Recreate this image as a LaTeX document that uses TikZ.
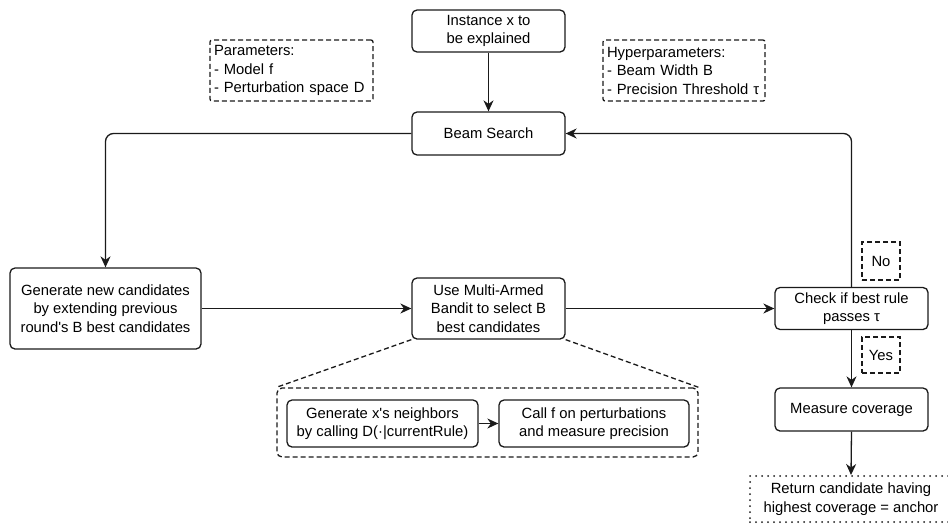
\documentclass[tikz,border=0pt]{standalone}
\usepackage{fontspec}
\setmainfont{Liberation Sans}[Ligatures=TeXOff]
\usetikzlibrary{arrows.meta}
\definecolor{ln}{HTML}{1a1a1a}
\tikzset{
  box/.style={draw=ln, line width=1.3pt, rounded corners=5pt, align=center, inner sep=0pt, font=\fontsize{14.8}{18.5}\selectfont},
  dbox/.style={draw=ln, line width=1.3pt, dash pattern=on 5pt off 3pt, rounded corners=2pt, inner sep=0pt, font=\fontsize{14.8}{18.5}\selectfont},
  conn/.style={draw=ln, line width=1.3pt, -{Stealth[length=11pt,width=10pt,inset=3.5pt]}},
}
\begin{document}
\begin{tikzpicture}[x=1pt,y=-1pt]
\useasboundingbox (0,0) rectangle (948,528);
% main boxes
\node[box, minimum width=153pt, minimum height=42pt] (inst) at (488.5,31) {Instance x to\\be explained};
\node[box, minimum width=153pt, minimum height=43pt] (beam) at (488.5,133.5) {Beam Search};
\node[dbox, minimum width=163pt, minimum height=61pt, align=left, text width=155pt] (par) at (291.5,70.5) {Parameters:\\- Model f\\- Perturbation space D};
\node[dbox, minimum width=162pt, minimum height=61pt, align=left, text width=154pt] (hyp) at (684,70.5) {Hyperparameters:\\- Beam Width B\\- Precision Threshold τ};
\node[box, minimum width=191pt, minimum height=81pt] (gen) at (105.5,308.5) {Generate new candidates\\by extending previous\\round's B best candidates};
\node[box, minimum width=153pt, minimum height=61pt] (mab) at (488.5,308.5) {Use Multi-Armed\\Bandit to select B\\best candidates};
\node[box, minimum width=153pt, minimum height=42pt] (chk) at (851.5,308.5) {Check if best rule\\passes τ};
\node[dbox, rounded corners=0pt, minimum width=38pt, minimum height=38pt] (no) at (881,261) {No};
\node[dbox, rounded corners=0pt, minimum width=38pt, minimum height=36pt] (yes) at (881,355) {Yes};
\node[box, minimum width=153pt, minimum height=43pt] (meas) at (851.5,409.5) {Measure coverage};
\node[draw=ln, line width=2pt, dash pattern=on 0pt off 6pt, line cap=round, align=center, inner sep=0pt, font=\fontsize{14.8}{18.5}\selectfont, minimum width=202pt, minimum height=46pt] (ret) at (851,499) {Return candidate having\\highest coverage = anchor};
% container
\node[dbox, rounded corners=5pt, minimum width=421pt, minimum height=69pt] (cont) at (487.5,422.5) {};
\node[box, minimum width=191pt, minimum height=47pt] (nb) at (382.5,423.5) {Generate x's neighbors\\by calling D(·|currentRule)};
\node[box, minimum width=190pt, minimum height=47pt] (cf) at (594,423.5) {Call f on perturbations\\and measure precision};
% connectors
\draw[conn] (inst.south) -- (beam.north);
\draw[conn, rounded corners=8pt] (beam.west) -| (gen.north);
\draw[conn] (gen.east) -- (mab.west);
\draw[conn] (mab.east) -- (chk.west);
\draw[conn, rounded corners=8pt] (chk.north) |- (beam.east);
\draw[conn] (chk.south) -- (meas.north);
\draw[conn] (meas.south) -- (ret.north);
\draw[conn] (nb.east) -- (cf.west);
\draw[draw=ln, line width=1.3pt, dash pattern=on 5pt off 3pt] (mab.south west) -- (cont.north west);
\draw[draw=ln, line width=1.3pt, dash pattern=on 5pt off 3pt] (mab.south east) -- (cont.north east);
\end{tikzpicture}
\end{document}
